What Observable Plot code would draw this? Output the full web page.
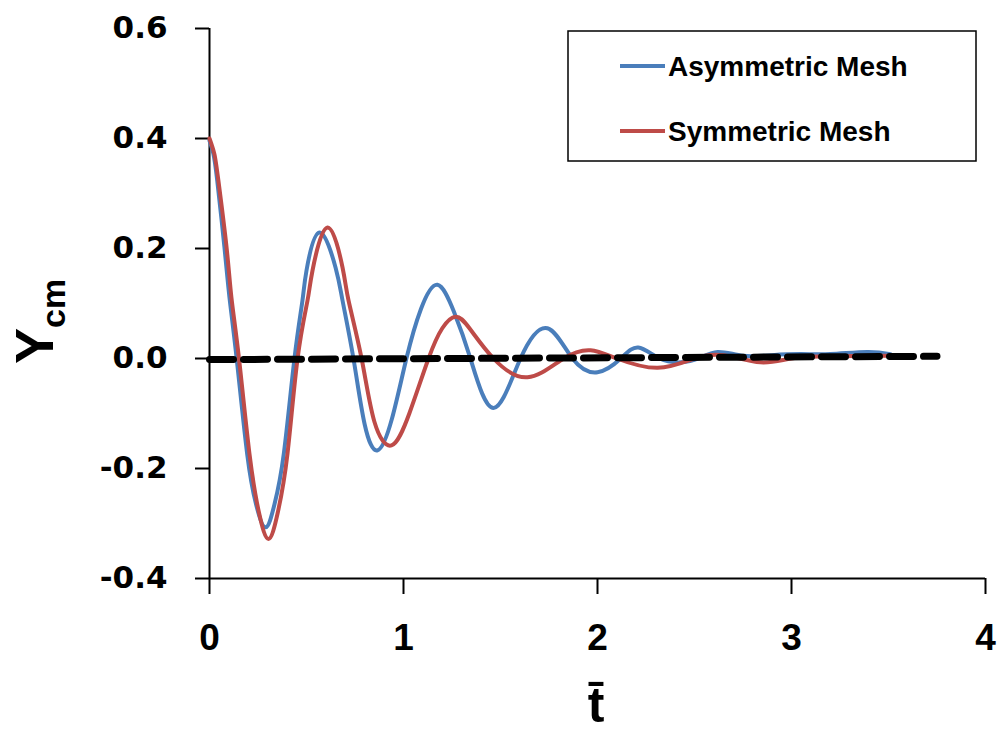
<!DOCTYPE html>
<html>
<head>
<meta charset="utf-8">
<script src="https://cdn.jsdelivr.net/npm/d3@7"></script>
<script src="https://cdn.jsdelivr.net/npm/@observablehq/plot@0.6"></script>
<style>
  html, body { margin: 0; padding: 0; background: #fff; }
  #chart { width: 1003px; height: 733px; overflow: hidden; }
</style>
</head>
<body>
<div id="chart"></div>
<script>
// ---- Data ----
const seriesNames = ["Asymmetric Mesh", "Symmetric Mesh"];
const seriesColors = ["#4A7EBB", "#BE4B48"];

const tAsym = [0, 0.02, 0.04, 0.077, 0.103, 0.14, 0.194, 0.24, 0.289, 0.335, 0.383, 0.438, 0.479, 0.50, 0.567, 0.65, 0.686, 0.742, 0.80, 0.866, 0.94, 1.015, 1.09, 1.175, 1.26, 1.345, 1.464, 1.603, 1.742, 1.871, 2.0, 2.12, 2.21, 2.32, 2.43, 2.52, 2.62, 2.75, 2.9, 3.05, 3.2, 3.39, 3.51];
const yAsym = [0.396, 0.372, 0.323, 0.202, 0.111, 0, -0.173, -0.265, -0.307, -0.265, -0.173, 0, 0.105, 0.16, 0.229, 0.165, 0.105, 0, -0.12, -0.167, -0.11, 0, 0.09, 0.134, 0.085, 0, -0.09, 0, 0.055, 0, -0.025, 0, 0.02, 0, -0.007, 0, 0.012, 0.005, 0.006, 0.008, 0.008, 0.012, 0.008];

const tSym = [0, 0.025, 0.046, 0.088, 0.113, 0.152, 0.206, 0.255, 0.304, 0.352, 0.402, 0.454, 0.505, 0.531, 0.608, 0.686, 0.717, 0.784, 0.85, 0.938, 1.03, 1.129, 1.2, 1.268, 1.34, 1.464, 1.639, 1.825, 1.964, 2.10, 2.31, 2.5, 2.65, 2.84, 3.0, 3.2, 3.5];
const ySym = [0.4, 0.372, 0.323, 0.202, 0.111, 0, -0.173, -0.28, -0.328, -0.28, -0.173, 0, 0.105, 0.16, 0.238, 0.165, 0.105, 0, -0.115, -0.158, -0.1, 0, 0.055, 0.076, 0.055, 0, -0.034, 0, 0.015, 0, -0.017, 0, 0.006, -0.007, 0, 0.004, 0.005];

const tRef = [0, 3.75];
const yRef = [-0.002, 0.004];

const xTicks = [0, 1, 2, 3, 4];
const yTicks = [-0.4, -0.2, 0.0, 0.2, 0.4, 0.6];
const yTickLabels = ["-0.4", "-0.2", "0.0", "0.2", "0.4", "0.6"];
const xTickLabels = ["0", "1", "2", "3", "4"];

// ---- Build tables ----
const asym = tAsym.map((t, i) => ({t, y: yAsym[i]}));
const sym = tSym.map((t, i) => ({t, y: ySym[i]}));
const ref = tRef.map((t, i) => ({t, y: yRef[i]}));

const plot = Plot.plot({
  width: 1003,
  height: 733,
  marginLeft: 209,
  marginRight: 18,
  marginTop: 28,
  marginBottom: 155,
  style: {background: "#fff", color: "#000"},
  x: {domain: [0, 4]},
  y: {domain: [-0.4, 0.6]},
  marks: [
    Plot.axisY({
      ticks: yTicks, tickSize: 14, tickPadding: 28, strokeWidth: 2,
      tickFormat: (d) => yTickLabels[yTicks.findIndex(v => Math.abs(v - d) < 1e-9)], label: null,
      fontFamily: "DejaVu Sans", fontWeight: "bold", fontSize: 31
    }),
    Plot.axisX({
      ticks: xTicks, tickSize: 16, tickPadding: 29, strokeWidth: 2,
      tickFormat: (d) => xTickLabels[xTicks.indexOf(d)], label: null,
      fontFamily: "Liberation Sans", fontWeight: "bold", fontSize: 37
    }),
    Plot.ruleX([0], {stroke: "#000", strokeWidth: 2}),
    Plot.ruleY([-0.4], {stroke: "#000", strokeWidth: 2}),
    Plot.line(asym, {x: "t", y: "y", stroke: seriesColors[0], strokeWidth: 4, curve: "natural"}),
    Plot.line(sym, {x: "t", y: "y", stroke: seriesColors[1], strokeWidth: 4, curve: "natural"}),
    Plot.line(ref, {x: "t", y: "y", stroke: "#000", strokeWidth: 7, strokeDasharray: "24,10"})
  ]
});

document.getElementById("chart").appendChild(plot);

const svg = d3.select(plot);

// Y axis label: Y with subscript cm
const yl = svg.append("text")
  .attr("transform", "translate(53,364) rotate(-90)")
  .attr("text-anchor", "start")
  .attr("font-family", "Liberation Sans")
  .attr("font-weight", "bold")
  .attr("font-size", 54)
  .attr("fill", "#000");
yl.append("tspan").text("Y");
yl.append("tspan").attr("font-size", 34).attr("dy", 12).text("cm");

// X axis label: t with bar
svg.append("text")
  .attr("x", 596).attr("y", 722)
  .attr("text-anchor", "middle")
  .attr("font-family", "Liberation Sans")
  .attr("font-weight", "bold")
  .attr("font-size", 50)
  .attr("fill", "#000")
  .text("t\u0304");

// Legend
const lg = svg.append("g");
lg.append("rect").attr("x", 568).attr("y", 31).attr("width", 408).attr("height", 130)
  .attr("fill", "#fff").attr("stroke", "#000").attr("stroke-width", 1.5);
const legendY = [66, 131];
seriesNames.forEach((name, i) => {
  lg.append("line").attr("x1", 620).attr("x2", 665).attr("y1", legendY[i]).attr("y2", legendY[i])
    .attr("stroke", seriesColors[i]).attr("stroke-width", 4);
  lg.append("text").attr("x", 668).attr("y", legendY[i] + 10)
    .attr("text-anchor", "start")
    .attr("font-family", "Liberation Sans").attr("font-weight", "bold").attr("font-size", 28)
    .attr("fill", "#000").text(name);
});
</script>
</body>
</html>
